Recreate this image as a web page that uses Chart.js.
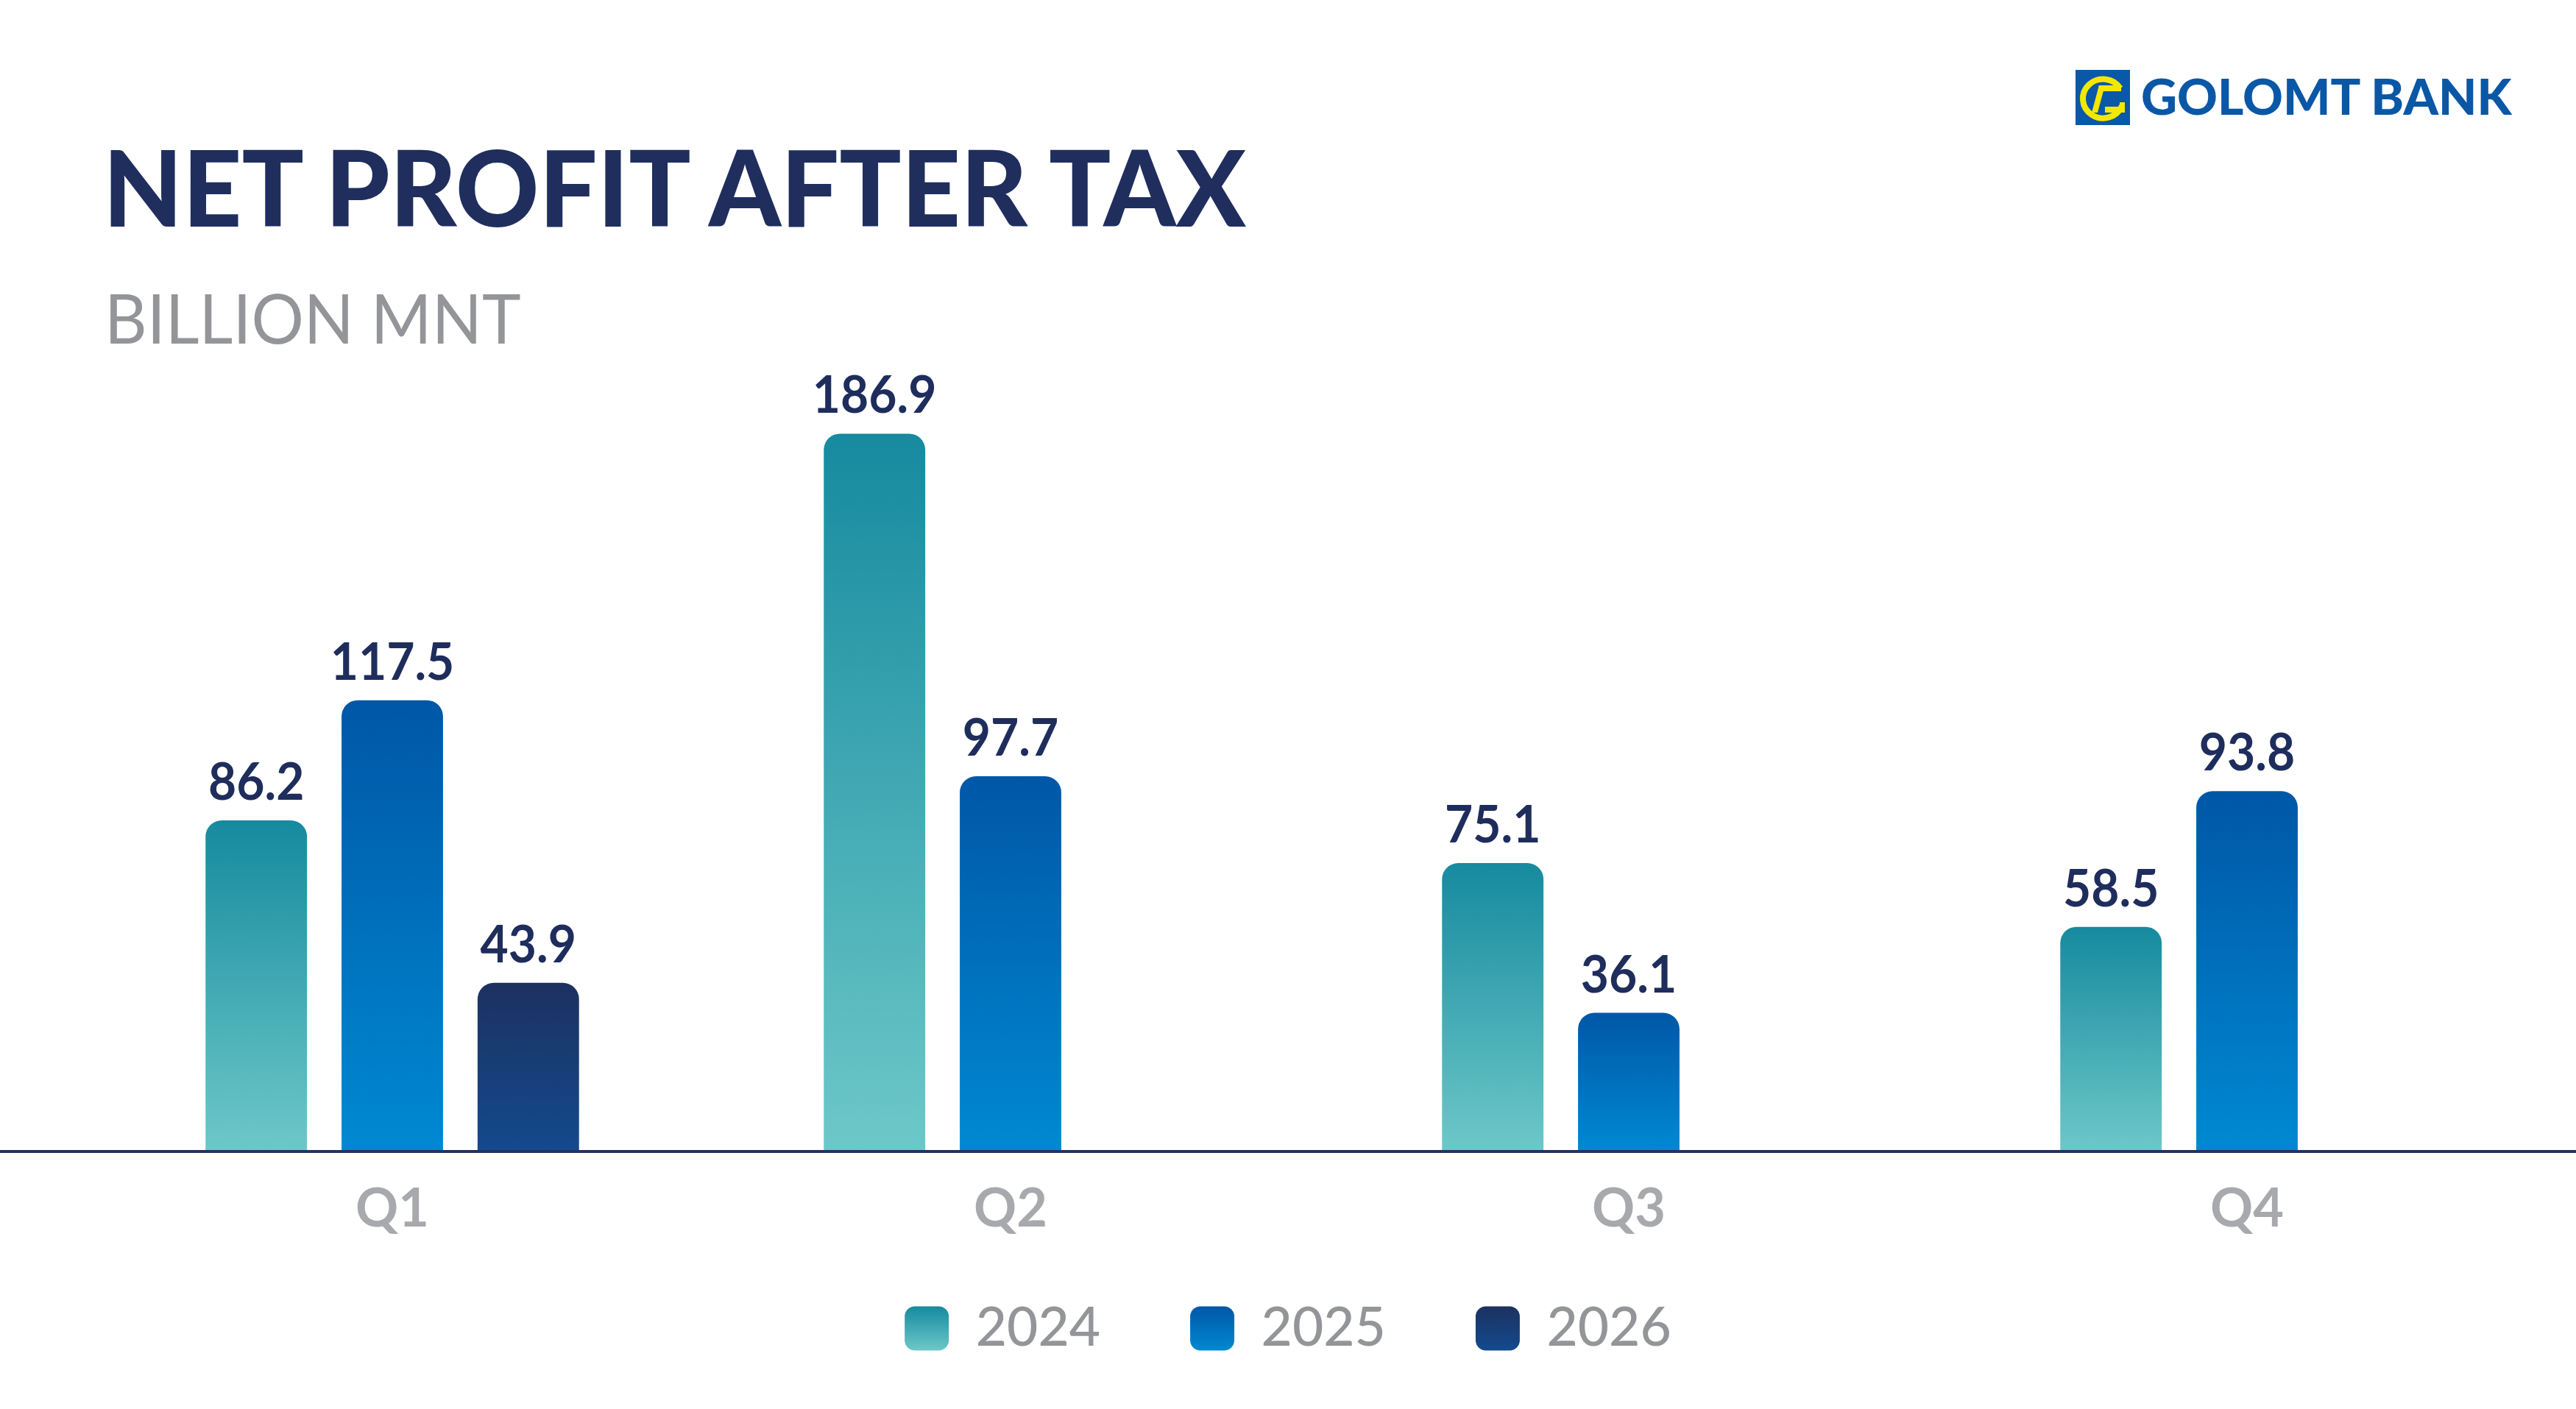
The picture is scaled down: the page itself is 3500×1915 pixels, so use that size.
<!DOCTYPE html>
<html>
<head>
<meta charset="utf-8">
<script src="https://cdn.jsdelivr.net/npm/chart.js@4.4.1/dist/chart.umd.min.js"></script>
<style>
html,body{margin:0;padding:0;background:#ffffff;width:3500px;height:1915px;overflow:hidden;}
#wrap{position:relative;width:3500px;height:1915px;background:#ffffff;}
#c{position:absolute;left:0;top:0;}
.t{position:absolute;white-space:nowrap;transform-origin:0 0;margin:0;}
#logo{position:absolute;left:2820px;top:95px;width:74px;height:75px;}
</style>
</head>
<body>
<div id="wrap">
  <canvas id="c" width="3500" height="1915"></canvas>
  <div id="title" class="t"></div>
  <div id="sub" class="t"></div>
  <svg id="logo" viewBox="0 0 74 75" xmlns="http://www.w3.org/2000/svg">
    <rect x="0" y="0" width="74" height="75" fill="#0a58a8"/>
    <path d="M60.8 25 A27.5 26.5 0 1 0 63 48.9" stroke="#f3e800" stroke-width="8" fill="none"/>
    <polygon points="32,21 62,21 62,29 30,29" fill="#f3e800"/>
    <polygon points="32,21 40,21 30,58 22,58" fill="#f3e800"/>
    <polygon points="40,50 60,50 60,44 67,44 67,58 40,58" fill="#f3e800"/>
  </svg>
  <div id="logoText" class="t"></div>
</div>
<script>
// ---- data ----
const categories = ['Q1', 'Q2', 'Q3', 'Q4'];
const seriesNames = ['2024', '2025', '2026'];
const values2024 = [86.2, 186.9, 75.1, 58.5];
const values2025 = [117.5, 97.7, 36.1, 93.8];
const values2026 = [43.9, null, null, null];
const titleText = 'NET PROFIT AFTER TAX';
const subtitleText = 'BILLION MNT';
const logoLabel = 'GOLOMT BANK';

// ---- styles ----
const gradStops = [
  ['#168a9f', '#6dc8c8'],
  ['#0057a7', '#0089d1'],
  ['#1d3160', '#134a8e']
];
const LEGEND_FONT = 73, LEGEND_BOX = 60, LEGEND_PAD = 122;

function place(id, text, weight, family, color, left, capTop, capBottom, right) {
  const el = document.getElementById(id);
  const cv = document.createElement('canvas').getContext('2d');
  cv.font = weight + ' 100px ' + family;
  const capRatio = cv.measureText('H').actualBoundingBoxAscent / 100;
  const S = (capBottom - capTop) / capRatio;
  cv.font = weight + ' ' + S + 'px ' + family;
  const m = cv.measureText(text);
  const fa = m.fontBoundingBoxAscent, fd = m.fontBoundingBoxDescent;
  const inkW = m.actualBoundingBoxLeft + m.actualBoundingBoxRight;
  const sx = (right - left) / inkW;
  const baselineOff = (S - (fa + fd)) / 2 + fa;
  el.textContent = text;
  el.style.fontFamily = family;
  el.style.fontWeight = weight;
  el.style.fontSize = S + 'px';
  el.style.lineHeight = S + 'px';
  el.style.color = color;
  el.style.top = (capBottom - baselineOff) + 'px';
  el.style.left = (left + m.actualBoundingBoxLeft * sx) + 'px';
  el.style.transform = 'scaleX(' + sx + ')';
}

function barGrad(ctx, stops) {
  const chart = ctx.chart;
  if (!chart.chartArea || !ctx.parsed || ctx.parsed.y == null) return stops[0];
  const ys = chart.scales.y;
  const top = ys.getPixelForValue(ctx.parsed.y);
  const bot = ys.getPixelForValue(0);
  const g = chart.ctx.createLinearGradient(0, top, 0, bot);
  g.addColorStop(0, stops[0]);
  g.addColorStop(1, stops[1]);
  return g;
}

const axisLinePlugin = {
  id: 'axisLine',
  afterDatasetsDraw(chart) {
    const c = chart.ctx;
    const y0 = chart.scales.y.getPixelForValue(0);
    c.save();
    c.strokeStyle = '#26325e';
    c.lineWidth = 4;
    c.beginPath();
    c.moveTo(0, y0);
    c.lineTo(chart.width, y0);
    c.stroke();
    c.restore();
  }
};

const valueLabelPlugin = {
  id: 'valueLabels',
  afterDatasetsDraw(chart) {
    const c = chart.ctx;
    c.save();
    const size = 71;
    c.font = '700 ' + size + 'px Lato';
    const ref = c.measureText('186.9');
    const sx = 162 / (ref.actualBoundingBoxLeft + ref.actualBoundingBoxRight);
    c.fillStyle = '#1e2d5c';
    c.textAlign = 'center';
    c.textBaseline = 'alphabetic';
    chart.data.datasets.forEach((ds, di) => {
      const meta = chart.getDatasetMeta(di);
      if (meta.hidden) return;
      meta.data.forEach((el, i) => {
        const v = ds.data[i];
        if (v == null) return;
        c.save();
        c.translate(el.x, el.y - 28);
        c.scale(sx, 1);
        c.fillText(v.toFixed(1), 0, 0);
        c.restore();
      });
    });
    c.restore();
  }
};

function legendLabels(chart) {
  const items = Chart.defaults.plugins.legend.labels.generateLabels(chart);
  const lg = chart.legend;
  const top = (lg && lg.top != null ? lg.top : 0) + LEGEND_PAD + Math.max((LEGEND_FONT - LEGEND_BOX) / 2, 0);
  items.forEach((it, i) => {
    const g = chart.ctx.createLinearGradient(0, top, 0, top + LEGEND_BOX);
    g.addColorStop(0, gradStops[i][0]);
    g.addColorStop(1, gradStops[i][1]);
    it.fillStyle = g;
    it.strokeStyle = 'rgba(0,0,0,0)';
    it.lineWidth = 0;
    it.borderRadius = 14;
    it.fontColor = '#939598';
  });
  return items;
}

function build() {
  place('title', titleText, '900', 'Lato', '#1f2e5d', 150, 203, 308, 1711);
  place('sub', subtitleText, '400', 'Lato', '#939598', 150, 400, 468, 707);
  place('logoText', logoLabel, '900', 'Lato', '#0a57a6', 2911, 108, 157, 3416);

  const seriesValues = [values2024, values2025, values2026];
  const datasets = seriesNames.map((name, i) => ({
    label: name,
    data: seriesValues[i],
    backgroundColor: (ctx) => barGrad(ctx, gradStops[i]),
    borderWidth: 0,
    borderRadius: 22,
    borderSkipped: 'start',
    categoryPercentage: 0.66,
    barPercentage: 0.746
  }));

  const X_AXIS_H = 82;
  const chart = new Chart(document.getElementById('c'), {
    type: 'bar',
    data: { labels: categories, datasets },
    options: {
      responsive: false,
      animation: false,
      devicePixelRatio: 1,
      layout: { padding: { top: 521, bottom: 1915 - 1565 - X_AXIS_H - (LEGEND_FONT + LEGEND_PAD + 10), left: 0, right: 0 } },
      plugins: {
        tooltip: { enabled: false },
        title: { display: false },
        legend: {
          position: 'bottom',
          labels: {
            font: { family: 'Lato', weight: '500', size: LEGEND_FONT },
            color: '#939598',
            boxWidth: LEGEND_BOX,
            boxHeight: LEGEND_BOX,
            padding: LEGEND_PAD,
            useBorderRadius: true,
            borderRadius: 14,
            generateLabels: legendLabels
          }
        }
      },
      scales: {
        x: {
          grid: { display: false },
          border: { display: false },
          ticks: { font: { family: 'Lato', weight: '700', size: 72 }, color: '#a7a9ac', padding: 28 },
          afterFit: (s) => { s.height = X_AXIS_H; s._computeLabelArea = () => undefined; }
        },
        y: {
          min: 0, max: 200,
          grid: { display: false },
          border: { display: false },
          ticks: { display: false },
          afterFit: (s) => { s.width = 113; }
        },
        yR: {
          type: 'linear', position: 'right', min: 0, max: 1,
          grid: { display: false },
          border: { display: false },
          ticks: { display: false },
          afterFit: (s) => { s.width = 27; }
        }
      }
    },
    plugins: [axisLinePlugin, valueLabelPlugin]
  });
  chart.update('none');
}

Promise.all([
  document.fonts.load('900 100px Lato'),
  document.fonts.load('700 100px Lato'),
  document.fonts.load('500 100px Lato'),
  document.fonts.load('400 100px Lato')
]).then(build, build);
</script>
</body>
</html>
